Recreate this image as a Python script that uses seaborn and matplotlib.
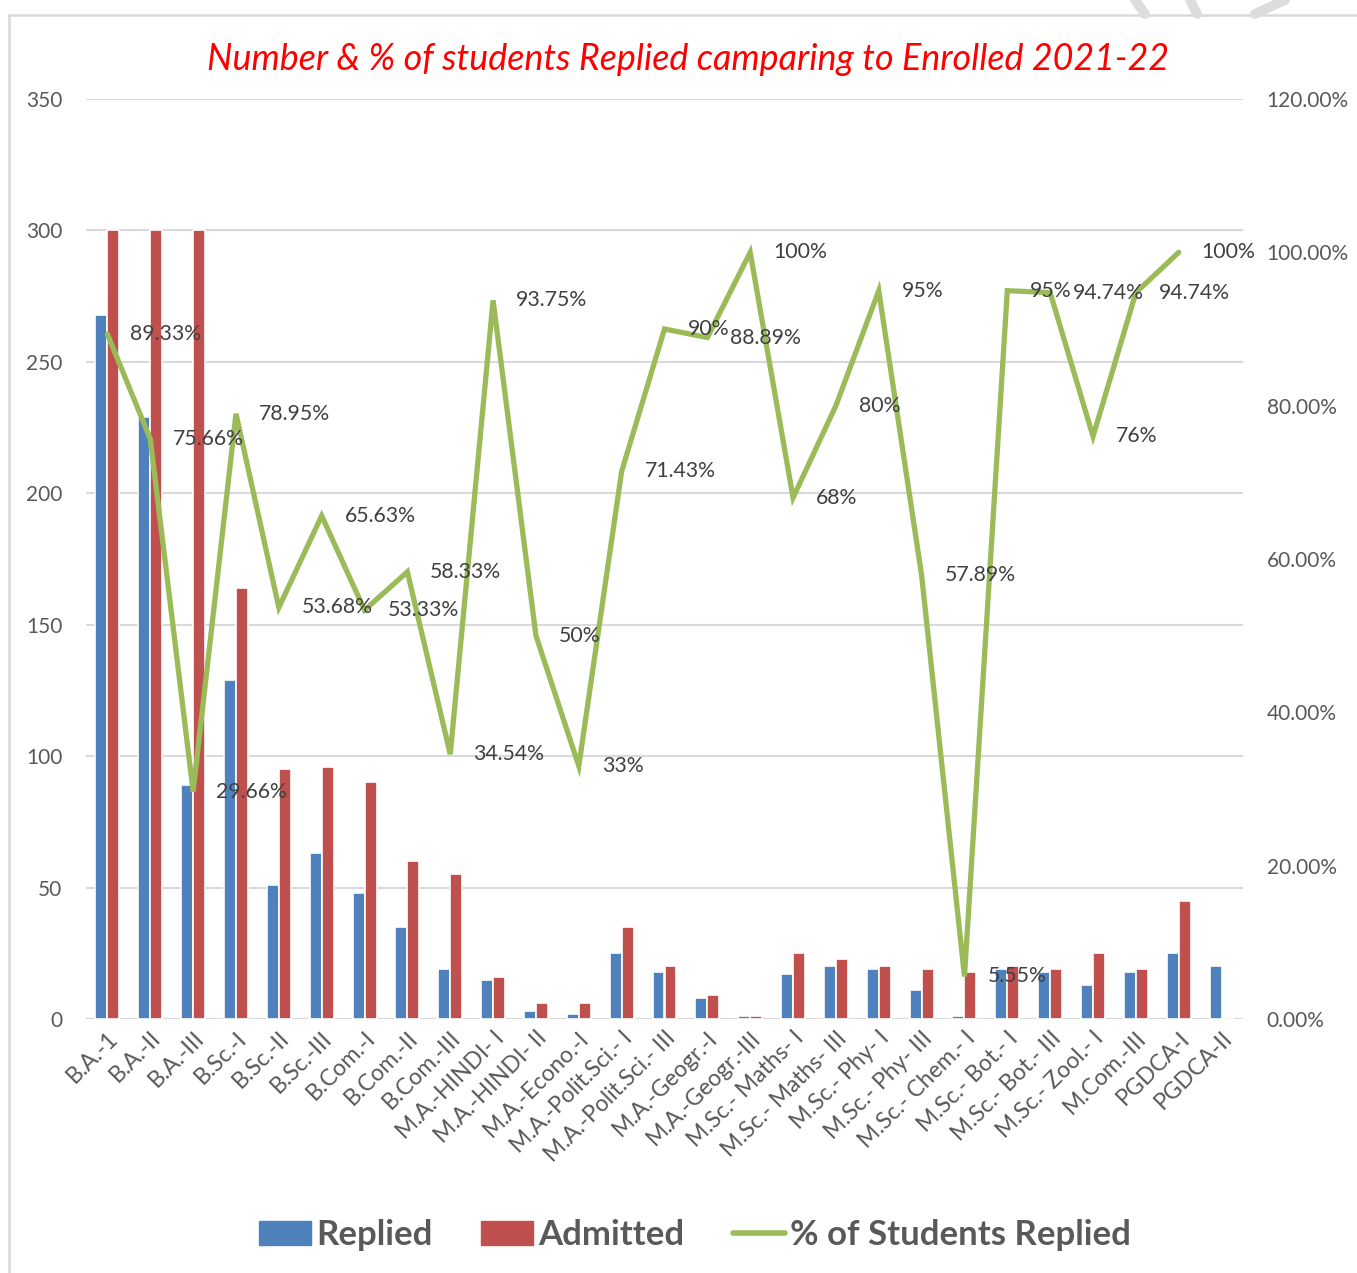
import numpy as np
import pandas as pd
import matplotlib
matplotlib.use('Agg')
import matplotlib.pyplot as plt
import matplotlib.lines as mlines
import matplotlib.patches as mpatches
import seaborn as sns

# ---- data ----
courses = ["B.A.-1", "B.A.-II", "B.A.-III", "B.Sc.-I", "B.Sc.-II", "B.Sc.-III",
           "B.Com.-I", "B.Com.-II", "B.Com.-III", "M.A.-HINDI- I", "M.A.-HINDI- II",
           "M.A.-Econo.-I", "M.A.-Polit.Sci.- I", "M.A.-Polit.Sci.- III", "M.A.-Geogr.-I",
           "M.A.-Geogr.-III", "M.Sc.- Maths- I", "M.Sc.- Maths- III", "M.Sc.- Phy- I",
           "M.Sc.- Phy- III", "M.Sc.- Chem.- I", "M.Sc.- Bot.- I", "M.Sc.- Bot.- III",
           "M.Sc.- Zool.- I", "M.Com.-III", "PGDCA-I", "PGDCA-II"]
replied = [268, 229, 89, 129, 51, 63, 48, 35, 19, 15, 3, 2, 25, 18, 8, 1,
           17, 20, 19, 11, 1, 19, 18, 13, 18, 25, 20]
admitted = [300, 300, 300, 164, 95, 96, 90, 60, 55, 16, 6, 6, 35, 20, 9, 1,
            25, 23, 20, 19, 18, 20, 19, 25, 19, 45, 0]
# % line (last course has no value)
pct_values = [89.33, 75.66, 29.66, 78.95, 53.68, 65.63, 53.33, 58.33, 34.54, 93.75,
              50, 33, 71.43, 90, 88.89, 100, 68, 80, 95, 57.89, 5.55, 95, 94.74,
              76, 94.74, 100]
pct_labels = ["89.33%", "75.66%", "29.66%", "78.95%", "53.68%", "65.63%", "53.33%",
              "58.33%", "34.54%", "93.75%", "50%", "33%", "71.43%", "90%", "88.89%",
              "100%", "68%", "80%", "95%", "57.89%", "5.55%", "95%", "94.74%", "76%",
              "94.74%", "100%"]
left_ticks = [0, 50, 100, 150, 200, 250, 300, 350]
right_ticks = [0, 20, 40, 60, 80, 100, 120]

BLUE, RED, GREEN = "#4F81BD", "#C0504D", "#9BBB59"
GREY_TXT = "#595959"

sns.set_theme(style="white")
plt.rcParams['font.family'] = ['Lato', 'DejaVu Sans']

df = pd.DataFrame({"course": courses * 2,
                   "count": replied + admitted,
                   "series": ["Replied"] * len(courses) + ["Admitted"] * len(courses)})

fig = plt.figure(figsize=(13.57, 12.73), dpi=100)
ax = fig.add_axes([86 / 1357, 1 - 1019 / 1273, (1243 - 86) / 1357, (1019 - 99) / 1273])

sns.barplot(data=df, x="course", y="count", hue="series", order=courses,
            palette={"Replied": BLUE, "Admitted": RED}, width=0.56, saturation=1,
            edgecolor="white", linewidth=1.2, ax=ax, legend=False)

ax.set_ylim(0, 350)
ax.set_xlim(-0.5, len(courses) - 0.5)
ax.set_yticks(left_ticks)
ax.yaxis.grid(True, color="#d9d9d9", linewidth=1.5)
ax.set_axisbelow(True)
for s in ax.spines.values():
    s.set_visible(False)
ax.axhline(0, color="#d9d9d9", linewidth=2.2, zorder=0.5)
ax.set_xlabel("")
ax.set_ylabel("")
ax.tick_params(axis="y", length=0, pad=17, labelsize=15, labelcolor=GREY_TXT)
ax.tick_params(axis="x", length=0, pad=6, labelsize=16.5, labelcolor=GREY_TXT)
ax.set_xticks(range(len(courses)))
ax.set_xticklabels(courses, rotation=45, ha="right", rotation_mode="anchor")

# percentage line on secondary axis
ax2 = ax.twinx()
xs = np.arange(len(pct_values))
sns.lineplot(x=xs, y=pct_values, color=GREEN, linewidth=3.8, ax=ax2,
             solid_joinstyle="miter", solid_capstyle="round")
ax2.set_ylim(0, 120)
ax2.set_yticks(right_ticks)
ax2.set_yticklabels([f"{t:.2f}%" for t in right_ticks])
ax2.tick_params(axis="y", length=0, pad=17, labelsize=15, labelcolor=GREY_TXT)
for s in ax2.spines.values():
    s.set_visible(False)
ax2.set_ylabel("")
ax2.grid(False)

for xi, v, lab in zip(xs, pct_values, pct_labels):
    ax2.annotate(lab, (xi, v), xytext=(16.5, 0), textcoords="offset points",
                 ha="left", va="center", fontsize=15.3, color="#404040")

# title
fig.text(688 / 1357, 1 - 60 / 1273,
         "Number & % of students Replied camparing to Enrolled 2021-22",
         ha="center", va="center", color="red", fontsize=25.8, style="italic")

# legend
handles = [mpatches.Patch(color=BLUE, label="Replied"),
           mpatches.Patch(color=RED, label="Admitted"),
           mlines.Line2D([], [], color=GREEN, linewidth=4, label="% of Students Replied")]
leg = fig.legend(handles=handles, loc="center", bbox_to_anchor=(695 / 1357, 1 - 1235 / 1273),
                 ncol=3, frameon=False, prop={"size": 25, "weight": "bold"},
                 handlelength=1.5, handletextpad=0.15, columnspacing=1.4)
for t in leg.get_texts():
    t.set_color(GREY_TXT)

# outer chart border
fig.add_artist(mlines.Line2D([9 / 1357, 9 / 1357], [0, 1 - 15 / 1273],
                             transform=fig.transFigure, color="#d9d9d9", linewidth=1.8))
fig.add_artist(mlines.Line2D([9 / 1357, 1], [1 - 15 / 1273, 1 - 15 / 1273],
                             transform=fig.transFigure, color="#d9d9d9", linewidth=1.8))
# faint watermark strokes in the top-right corner
for (x0, y0, x1, y1) in [(1135, 0, 1145, 14), (1190, 0, 1197, 14), (1285, 0, 1255, 14)]:
    fig.add_artist(mlines.Line2D([x0 / 1357, x1 / 1357], [1 - y0 / 1273, 1 - y1 / 1273],
                                 transform=fig.transFigure, color="#dcdcdc", linewidth=7))

fig.savefig("out.png", dpi=100)
